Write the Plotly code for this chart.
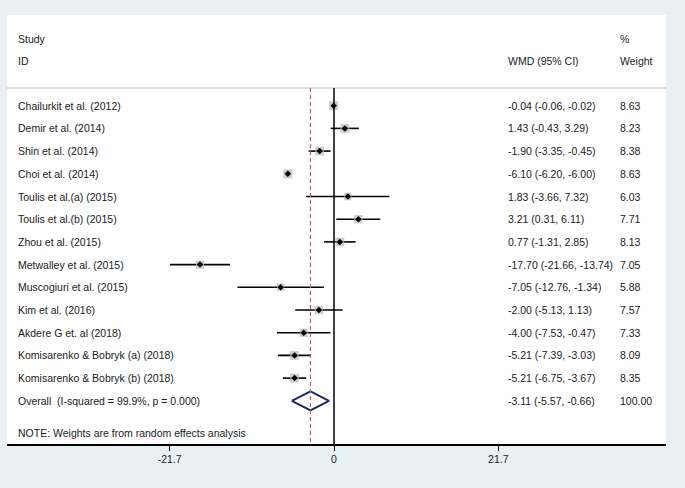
import plotly.graph_objects as go

studies = ["Chailurkit et al. (2012)", "Demir et al. (2014)", "Shin et al. (2014)", "Choi et al. (2014)",
           "Toulis et al.(a) (2015)", "Toulis et al.(b) (2015)", "Zhou et al. (2015)", "Metwalley et al. (2015)",
           "Muscogiuri et al. (2015)", "Kim et al. (2016)", "Akdere G et. al (2018)",
           "Komisarenko & Bobryk (a) (2018)", "Komisarenko & Bobryk (b) (2018)"]
wmd = [-0.04, 1.43, -1.90, -6.10, 1.83, 3.21, 0.77, -17.70, -7.05, -2.00, -4.00, -5.21, -5.21]
lo = [-0.06, -0.43, -3.35, -6.20, -3.66, 0.31, -1.31, -21.66, -12.76, -5.13, -7.53, -7.39, -6.75]
hi = [-0.02, 3.29, -0.45, -6.00, 7.32, 6.11, 2.85, -13.74, -1.34, 1.13, -0.47, -3.03, -3.67]
weights = [8.63, 8.23, 8.38, 8.63, 6.03, 7.71, 8.13, 7.05, 5.88, 7.57, 7.33, 8.09, 8.35]

overall_label = "Overall\u00a0 (I-squared = 99.9%, p = 0.000)"
overall = [-3.11, -5.57, -0.66]
overall_weight = "100.00"
tick_vals = [-21.7, 0, 21.7]
tick_text = ["-21.7", "0", "21.7"]

FONT = "Liberation Sans, Arial, sans-serif"
TXT = "#1a1a1a"
FS = 10.5
BG = "#e8f0f3"

W, H = 685, 488
ml, mr, mt, mb = 7, 19, 15, 44
x0px = 334.0
pxu = 7.57
row0, rowh = 105.7, 22.7

def ydata(py):
    return (py - row0) / rowh

def xpaper(px):
    return (px - ml) / (W - ml - mr)

xr = [(ml - x0px) / pxu, (W - mr - x0px) / pxu]
yr = [ydata(H - mb), ydata(mt)]

n = len(studies)
rows = list(range(n))
ov_row = n

fig = go.Figure()

# header separator line
hdr_y = ydata(88)
fig.add_shape(type="line", xref="paper", yref="y", x0=0, x1=1, y0=hdr_y, y1=hdr_y,
              line=dict(color="#bdbdbd", width=1))
# zero line
fig.add_shape(type="line", xref="x", yref="y", x0=0, x1=0, y0=hdr_y, y1=yr[0],
              line=dict(color="black", width=1.5))
# overall dashed line
fig.add_shape(type="line", xref="x", yref="y", x0=overall[0], x1=overall[0], y0=hdr_y, y1=yr[0],
              line=dict(color="#b5646c", width=1.2, dash="4px,3px"))

# CI lines
cx, cy = [], []
for i in rows:
    cx += [lo[i], hi[i], None]
    cy += [i, i, None]
fig.add_trace(go.Scatter(x=cx, y=cy, mode="lines", line=dict(color="black", width=1.6),
                         hoverinfo="skip", showlegend=False))

# weight boxes
sizes = [9.0 * (w / max(weights)) ** 0.5 for w in weights]
fig.add_trace(go.Scatter(x=wmd, y=rows, mode="markers",
                         marker=dict(symbol="square", size=sizes, color="#b8b8b8", line=dict(width=0)),
                         showlegend=False, hoverinfo="skip"))
fig.add_trace(go.Scatter(x=wmd, y=rows, mode="markers",
                         marker=dict(symbol="diamond", size=5, color="black", line=dict(width=0)),
                         showlegend=False, hoverinfo="skip"))

# overall diamond
dh = 0.42
fig.add_trace(go.Scatter(x=[overall[1], overall[0], overall[2], overall[0], overall[1]],
                         y=[ov_row, ov_row - dh, ov_row, ov_row + dh, ov_row],
                         mode="lines", line=dict(color="#1c2a6b", width=2),
                         showlegend=False, hoverinfo="skip"))

ann = []
def add_text(px, row, text):
    ann.append(dict(x=xpaper(px), xref="paper", y=row, yref="y", text=text, showarrow=False,
                    xanchor="left", yanchor="middle", font=dict(family=FONT, size=FS, color=TXT)))

add_text(16, ydata(39), "Study")
add_text(16, ydata(61), "ID")
add_text(506, ydata(61), "WMD (95% CI)")
add_text(618, ydata(39), "%")
add_text(618, ydata(61), "Weight")

for i in rows:
    add_text(16, i, studies[i])
    add_text(506, i, f"{wmd[i]:.2f} ({lo[i]:.2f}, {hi[i]:.2f})")
    add_text(618, i, f"{weights[i]:.2f}")

add_text(16, ov_row, overall_label)
add_text(506, ov_row, f"{overall[0]:.2f} ({overall[1]:.2f}, {overall[2]:.2f})")
add_text(618, ov_row, overall_weight)
add_text(16, ydata(433), "NOTE: Weights are from random effects analysis")

fig.update_layout(
    width=W, height=H,
    margin=dict(l=ml, r=mr, t=mt, b=mb, pad=0),
    paper_bgcolor=BG,
    plot_bgcolor="white",
    annotations=ann,
    xaxis=dict(range=xr, tickvals=tick_vals, ticktext=tick_text, ticks="outside", ticklen=5,
               tickwidth=1.2, tickcolor="black", showline=True, linecolor="black", linewidth=1.5,
               showgrid=False, zeroline=False, fixedrange=True,
               tickfont=dict(family=FONT, size=FS, color=TXT)),
    yaxis=dict(range=yr, visible=False, showgrid=False, zeroline=False, fixedrange=True),
    showlegend=False,
)

fig.write_html("out.html", config={"displayModeBar": False},
               post_script="document.body.style.margin='0';document.body.style.background='" + BG + "';")
